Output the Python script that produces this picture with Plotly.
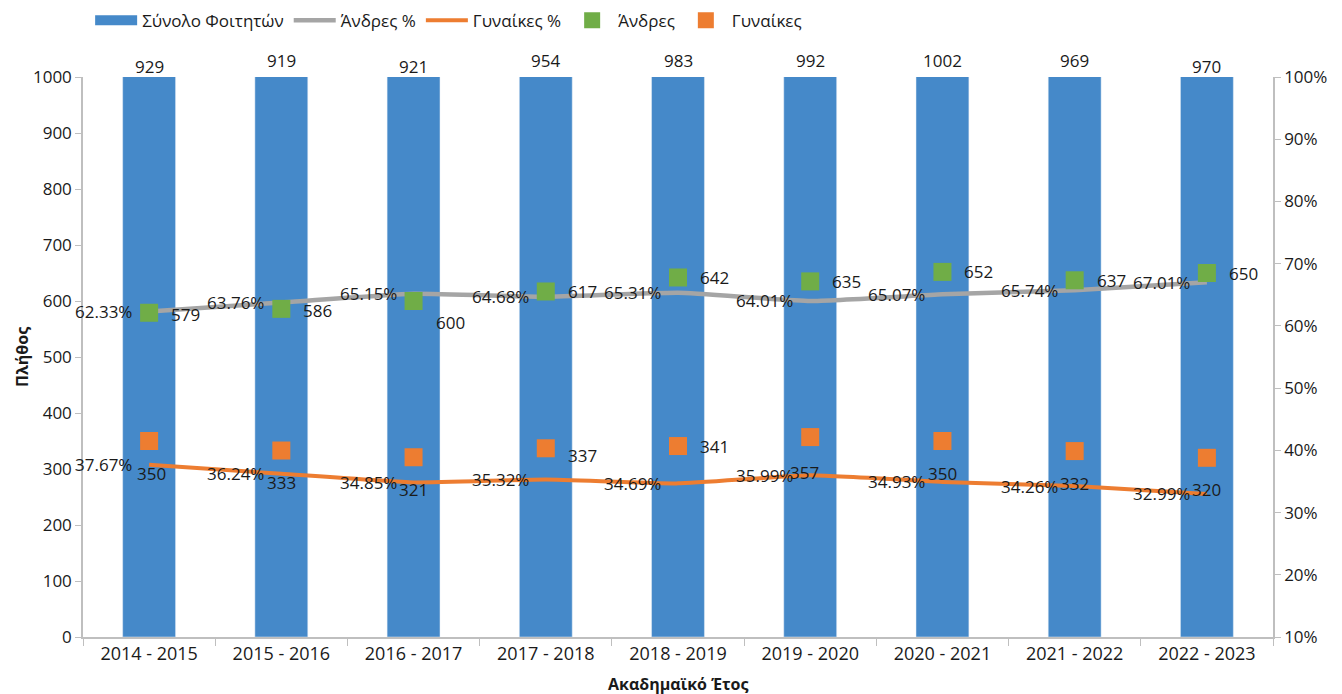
import plotly.graph_objects as go

years = ["2014 - 2015", "2015 - 2016", "2016 - 2017", "2017 - 2018", "2018 - 2019",
         "2019 - 2020", "2020 - 2021", "2021 - 2022", "2022 - 2023"]
total = [929, 919, 921, 954, 983, 992, 1002, 969, 970]
men = [579, 586, 600, 617, 642, 635, 652, 637, 650]
women = [350, 333, 321, 337, 341, 357, 350, 332, 320]
men_pct = [62.33, 63.76, 65.15, 64.68, 65.31, 64.01, 65.07, 65.74, 67.01]
women_pct = [37.67, 36.24, 34.85, 35.32, 34.69, 35.99, 34.93, 34.26, 32.99]

BLUE = "#4589C9"
GREY = "#A5A5A5"
ORANGE = "#ED7D31"
GREEN = "#70AD47"
AXIS = "#BFBFBF"
TXT = "#1a1a1a"
FONT = "Open Sans"

fig = go.Figure()

# bars on a hidden base axis (they fill the plot height, as in the reference)
fig.add_trace(go.Bar(x=years, y=total, marker_color=BLUE, name="Σύνολο Φοιτητών",
                     yaxis="y", showlegend=False, width=0.4))
# legend proxy for the bar series (wide flat swatch)
fig.add_trace(go.Scatter(x=[None], y=[None], mode="lines", name="Σύνολο Φοιτητών",
                         line=dict(color=BLUE, width=10), yaxis="y2"))

fig.add_trace(go.Scatter(x=years, y=[v / 100 for v in men_pct], mode="lines", name="Άνδρες %",
                         line=dict(color=GREY, width=4.5, shape="spline", smoothing=0.4),
                         yaxis="y2"))
fig.add_trace(go.Scatter(x=years, y=[v / 100 for v in women_pct], mode="lines", name="Γυναίκες %",
                         line=dict(color=ORANGE, width=4, shape="spline", smoothing=0.4),
                         yaxis="y2"))
fig.add_trace(go.Scatter(x=years, y=men, mode="markers", name="Άνδρες",
                         marker=dict(symbol="square", size=18, color=GREEN), yaxis="y3"))
fig.add_trace(go.Scatter(x=years, y=women, mode="markers", name="Γυναίκες",
                         marker=dict(symbol="square", size=18, color=ORANGE), yaxis="y3"))

ann = []
lblfont = dict(family=FONT, size=17, color=TXT)
# bar total labels above the plot
bar_lab_shift = [11, 17, 11, 17, 17, 17, 17, 17, 11]
for x, v, s in zip(years, total, bar_lab_shift):
    ann.append(dict(x=x, y=1, xref="x", yref="paper", text=str(v), showarrow=False,
                    yanchor="middle", yshift=s, font=lblfont))
# percent labels (left of points)
for x, v in zip(years, men_pct):
    ann.append(dict(x=x, y=v / 100, xref="x", yref="y2", text=f"{v:.2f}%", showarrow=False,
                    xanchor="right", yanchor="middle", xshift=-15, font=lblfont))
for x, v in zip(years, women_pct):
    ann.append(dict(x=x, y=v / 100, xref="x", yref="y2", text=f"{v:.2f}%", showarrow=False,
                    xanchor="right", yanchor="middle", xshift=-15, font=lblfont))
# men count labels (right of markers)
men_dy = [-2, -2, -21, 0, 0, 0, 0, 0, 0]
for x, v, dy in zip(years, men, men_dy):
    ann.append(dict(x=x, y=v, xref="x", yref="y3", text=str(v), showarrow=False,
                    xanchor="left", yanchor="middle", xshift=20, yshift=dy, font=lblfont))
# women count labels (mostly below markers)
w_anchor = ["center", "center", "center", "left", "left", "center", "center", "center", "center"]
w_dx = [2, 0, 0, 20, 20, -6, 0, 0, 0]
w_dy = [-32, -32, -32, -7, 0, -35, -32, -32, -32]
for x, v, a, dx, dy in zip(years, women, w_anchor, w_dx, w_dy):
    ann.append(dict(x=x, y=v, xref="x", yref="y3", text=str(v), showarrow=False,
                    xanchor=a, yanchor="middle", xshift=dx, yshift=dy, font=lblfont))
# axis titles
ann.append(dict(x=-0.0513, y=0.5, xref="paper", yref="paper", text="<b>Πλήθος</b>",
                textangle=-90, showarrow=False, xanchor="center", yanchor="middle",
                font=dict(family=FONT, size=16, color=TXT)))
ann.append(dict(x=0.5, y=-0.084, xref="paper", yref="paper", text="<b>Ακαδημαϊκό Έτος</b>",
                showarrow=False, xanchor="center", yanchor="middle",
                font=dict(family=FONT, size=16, color=TXT)))

tickfont = dict(family=FONT, size=17, color=TXT)
fig.update_layout(
    width=1342, height=694,
    margin=dict(l=83, r=69, t=77, b=57),
    paper_bgcolor="white", plot_bgcolor="white",
    font=dict(family=FONT, color=TXT),
    showlegend=True,
    legend=dict(orientation="h", x=0.006, xref="paper", y=0.996, yref="container",
                xanchor="left", yanchor="top", itemwidth=42,
                font=dict(family=FONT, size=17, color=TXT), traceorder="normal"),
    xaxis=dict(type="category", showline=True, linecolor=AXIS, linewidth=1.5,
               ticks="outside", tickson="boundaries", ticklen=7, tickcolor=AXIS,
               showgrid=False, tickfont=dict(family=FONT, size=18, color=TXT),
               range=[-0.5, 8.5]),
    yaxis=dict(range=[0, 900], visible=False, showgrid=False, zeroline=False),
    yaxis2=dict(range=[0.1, 1.0], dtick=0.1, tickformat=".0%", overlaying="y", side="right",
                showline=True, linecolor=AXIS, linewidth=1.5, ticks="outside", ticklen=6,
                tickcolor=AXIS, showgrid=False, zeroline=False, tickfont=tickfont),
    yaxis3=dict(range=[0, 1000], dtick=100, overlaying="y", side="left",
                showline=True, linecolor=AXIS, linewidth=1.5, ticks="outside", ticklen=6,
                tickcolor=AXIS, showgrid=False, zeroline=False, tickfont=tickfont),
    annotations=ann,
)

fig.write_html("out.html", config={"displayModeBar": False},
               post_script="document.body.style.margin='0';")
